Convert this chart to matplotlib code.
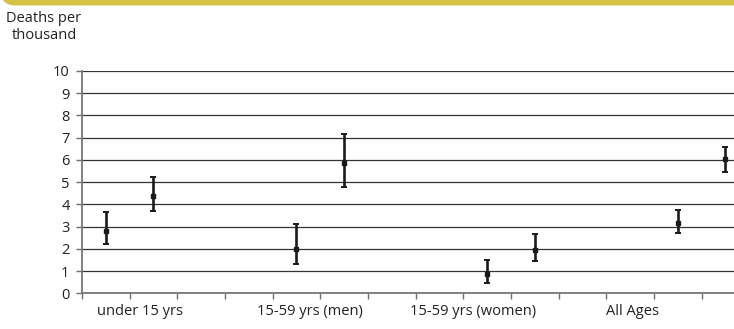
import numpy as np
import matplotlib
matplotlib.use("Agg")
import matplotlib.pyplot as plt
from matplotlib.patches import Polygon

plt.rcParams['font.family'] = ['Open Sans', 'DejaVu Sans']

# Age groups shown under the axis
groups = ["under 15 yrs", "15-59 yrs (men)", "15-59 yrs (women)", "All Ages"]

# Category slots along the x axis (two estimates per group, blank slots between groups)
nan = np.nan
rate = [2.82, 4.39, nan, nan, 1.98, 5.88, nan, nan, 0.87, 1.95, nan, nan, 3.18, 6.03]
rate_low = [2.20, 3.70, nan, nan, 1.30, 4.80, nan, nan, 0.48, 1.45, nan, nan, 2.70, 5.47]
rate_high = [3.67, 5.22, nan, nan, 3.10, 7.17, nan, nan, 1.50, 2.68, nan, nan, 3.75, 6.60]

y_ticks = [0, 1, 2, 3, 4, 5, 6, 7, 8, 9, 10]

rate = np.array(rate)
err_lo = rate - np.array(rate_low)
err_hi = np.array(rate_high) - rate
slots = np.arange(len(rate))
ok = ~np.isnan(rate)

W, H = 734, 329
fig = plt.figure(figsize=(W / 100, H / 100), dpi=100)

# yellow header band whose lower-left corner is rounded (pixel units, y downward)
r, band_h = 14.0, 5.5
yy = np.linspace(0, band_h, 12)
xx = r - np.sqrt(np.clip(r**2 - (yy - (band_h - r))**2, 0, None))
left_edge = [(x / W, 1 - y / H) for x, y in zip(xx, yy)]
outline = [(1.0, 1.0)] + left_edge + [(1.0, 1 - band_h / H)]
fig.patches.append(Polygon(outline, closed=True, transform=fig.transFigure,
                           facecolor="#d5c244", edgecolor="none"))

ax = fig.add_axes([82 / W, (H - 293.3) / H, (749.3 - 82) / W, (293.3 - 71) / H])

ax.set_xlim(-0.5, len(rate) - 0.5)
ax.set_ylim(0, 10)

for v in y_ticks[1:]:
    ax.axhline(v, color="#333333", lw=0.9, zorder=1)

ax.errorbar(slots[ok], rate[ok], yerr=[err_lo[ok], err_hi[ok]], fmt="s",
            color="#1a1a1a", ms=2.4, lw=1.9, capsize=2.0, capthick=1.4,
            zorder=3)

ax.set_yticks(y_ticks)
ax.set_yticklabels([str(v) for v in y_ticks], fontsize=10.5, color="#222222")
ax.set_xticks(np.arange(-0.5, len(rate), 1.0))
ax.set_xticklabels([])
ax.tick_params(axis="both", direction="out", length=4, width=1.0, color="#707070")
ax.tick_params(axis="y", pad=5)

for s in ["top", "right"]:
    ax.spines[s].set_visible(False)
for s in ["left", "bottom"]:
    ax.spines[s].set_color("#777777")
    ax.spines[s].set_linewidth(1.3)

# group labels under the axis
label_x = [-0.19, 3.17, 6.38, 10.49]
for name, lx in zip(groups, label_x):
    ax.text(lx, -0.05, name, transform=ax.get_xaxis_transform(),
            ha="left", va="top", fontsize=10.5, color="#222222")

fig.text(44 / W, 1 - 11 / H, "Deaths per\nthousand", ha="center", va="top",
         fontsize=10.5, color="#222222", linespacing=1.2)

fig.savefig("out.png", dpi=100)
